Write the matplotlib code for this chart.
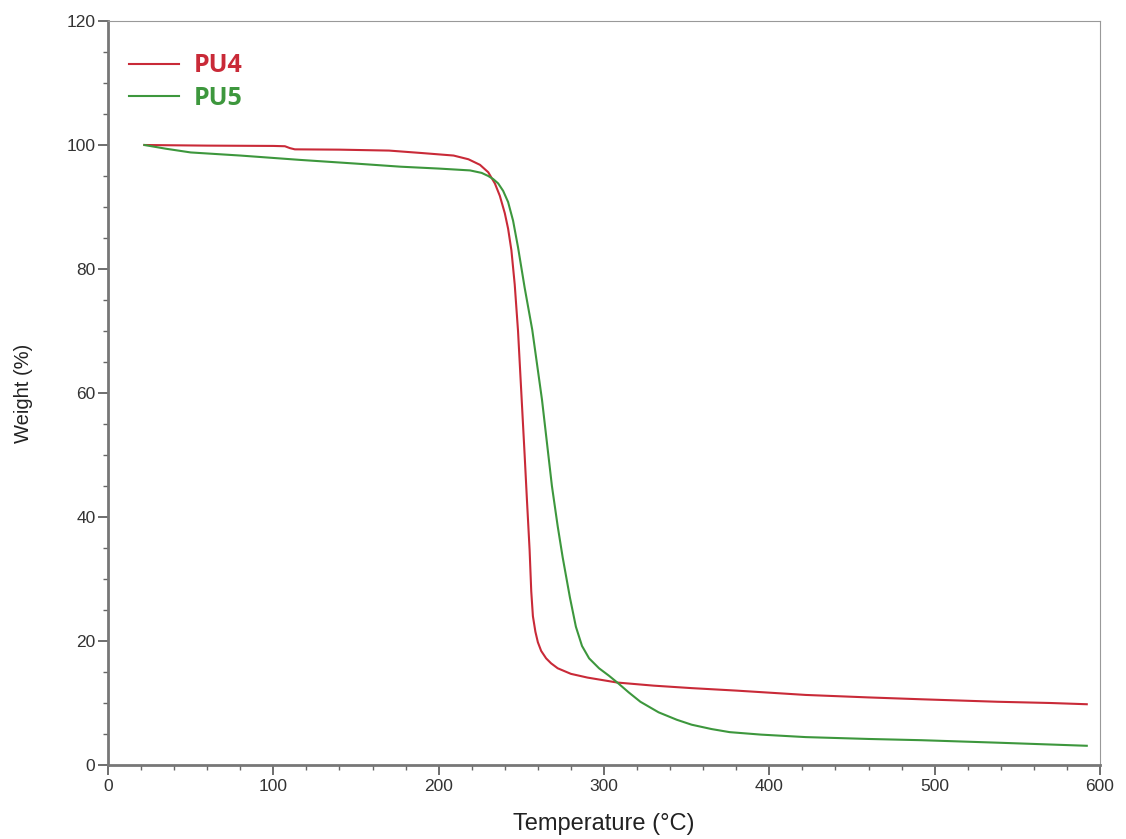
import matplotlib
matplotlib.use("Agg")
import matplotlib.pyplot as plt
from matplotlib.ticker import MultipleLocator

# PU4 (red)
pu4_temp = [22, 60, 100, 107, 110, 113, 140, 170, 190, 209, 218, 225, 230, 234, 237, 240, 242,
            244, 246, 248, 250, 252, 253.4, 255, 256, 257, 258.5, 260, 262, 265, 268, 272, 280,
            290, 308, 330, 353, 380, 422, 460, 492, 538, 570, 592]
pu4_weight = [100, 99.9, 99.85, 99.8, 99.5, 99.3, 99.25, 99.1, 98.7, 98.3, 97.7, 96.8, 95.6,
              93.8, 91.8, 89, 86.5, 83, 77.5, 70, 60, 50, 42.7, 34.7, 28, 24, 21.5, 19.8, 18.4,
              17.2, 16.4, 15.6, 14.7, 14.1, 13.3, 12.8, 12.4, 12.0, 11.3, 10.9, 10.6, 10.2,
              10.0, 9.8]

# PU5 (green)
pu5_temp = [22, 35, 50, 56, 80, 116, 150, 177, 200, 219, 226, 230, 233, 236, 239, 242, 245, 248,
            252, 256.6, 262.5, 268.5, 272, 275, 279.4, 283, 286.7, 291, 297, 303, 308.5, 315,
            322, 333, 344, 353, 365, 376, 395, 422, 460, 492, 538, 592]
pu5_weight = [100, 99.4, 98.8, 98.7, 98.3, 97.6, 97.0, 96.5, 96.2, 95.9, 95.5, 95.0, 94.5, 93.8,
              92.6, 90.8, 87.8, 83.5, 77, 70.2, 58.9, 45, 38.5, 33.5, 27, 22.3, 19.2, 17.2,
              15.6, 14.4, 13.2, 11.7, 10.2, 8.5, 7.3, 6.5, 5.8, 5.3, 4.9, 4.5, 4.2, 4.0, 3.6,
              3.1]

series_labels = ["PU4", "PU5"]
x_ticks = [0, 100, 200, 300, 400, 500, 600]
y_ticks = [0, 20, 40, 60, 80, 100, 120]

red = "#c92a38"
green = "#3d973d"

fig = plt.figure(figsize=(11.26, 8.39), dpi=100)
ax = fig.add_axes([108/1126, (839-765)/839, 992/1126, 744/839])

ax.plot(pu4_temp, pu4_weight, color=red, lw=1.5, label=series_labels[0])
ax.plot(pu5_temp, pu5_weight, color=green, lw=1.5, label=series_labels[1])

ax.set_xlim(0, 600)
ax.set_ylim(0, 120)
ax.set_xticks(x_ticks)
ax.set_yticks(y_ticks)
ax.xaxis.set_minor_locator(MultipleLocator(20))
ax.yaxis.set_minor_locator(MultipleLocator(5))

tick_font = dict(family="Liberation Sans", size=12.5)
ax.set_xticklabels([str(t) for t in x_ticks], **tick_font, color="#333333")
ax.set_yticklabels([str(t) for t in y_ticks], **tick_font, color="#333333")
ax.tick_params(which="major", direction="out", length=7, width=1.2, color="#555555")
ax.tick_params(which="minor", direction="out", length=3.5, width=1.0, color="#666666")
ax.tick_params(axis="x", which="major", pad=3)
ax.tick_params(axis="y", which="major", pad=2)

for s in ax.spines.values():
    s.set_color("#999999")
    s.set_linewidth(0.8)
for k in ("left", "bottom"):
    ax.spines[k].set_linewidth(2.0)
    ax.spines[k].set_color("#777777")

ax.set_xlabel("Temperature (°C)", family="Liberation Sans", size=17, color="#222222", labelpad=14)
ax.set_ylabel("Weight (%)", family="Liberation Sans", size=14.5, color="#222222", labelpad=24)

leg = ax.legend(loc="upper left", frameon=False, handlelength=2.0, handletextpad=0.6,
                labelspacing=0.3, bbox_to_anchor=(0.0, 0.985), borderaxespad=0.45,
                prop=dict(family="Open Sans", size=18, weight="bold"))
for txt, c in zip(leg.get_texts(), [red, green]):
    txt.set_color(c)

fig.savefig("out.png", dpi=100)
